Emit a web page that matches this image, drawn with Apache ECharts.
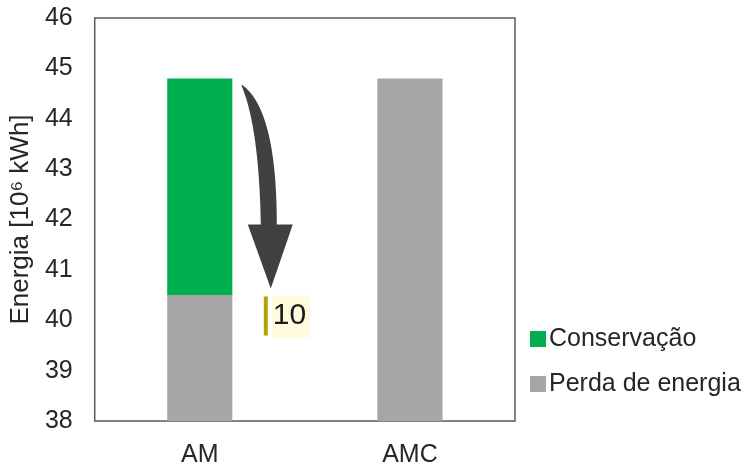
<!DOCTYPE html>
<html>
<head>
<meta charset="utf-8">
<script src="https://cdn.jsdelivr.net/npm/echarts@6/dist/echarts.min.js"></script>
<style>
  html, body { margin: 0; padding: 0; background: #fff; }
  #chart { width: 742px; height: 468px; }
</style>
</head>
<body>
<div id="chart"></div>
<script>
// Categories and stacked values (10^6 kWh)
const categories = ['AM', 'AMC'];
const perdaEnergia = [40.5, 44.8];
const conservacao = [4.3, '-'];
const yTicks = { min: 38, max: 46, interval: 1 };
const reductionLabel = '10';

const FONT = '"Liberation Sans", Arial, sans-serif';
const chart = echarts.init(document.getElementById('chart'), null, { renderer: 'canvas' });

chart.setOption({
  animation: false,
  textStyle: { fontFamily: FONT },
  grid: {
    left: 94, top: 18, right: 227, bottom: 45,
    show: true, borderColor: '#595959', borderWidth: 1.5
  },
  legend: {
    orient: 'vertical',
    left: 525, top: 320,
    itemWidth: 16, itemHeight: 16, itemGap: 17,
    icon: 'rect',
    data: ['Conservação', 'Perda de energia'],
    textStyle: { fontSize: 25, color: '#262626', fontFamily: FONT, lineHeight: 28, padding: [0, 0, 0, -2] }
  },
  xAxis: {
    type: 'category',
    data: categories,
    axisLine: { show: false },
    axisTick: { show: false },
    axisLabel: { fontSize: 25, color: '#262626', margin: 22, fontFamily: FONT }
  },
  yAxis: {
    type: 'value',
    min: yTicks.min, max: yTicks.max, interval: yTicks.interval,
    name: 'Energia [10⁶ kWh]',
    nameLocation: 'middle',
    nameGap: 57,
    nameTextStyle: { fontSize: 26, color: '#262626', fontFamily: FONT },
    axisLine: { show: false },
    axisTick: { show: false },
    splitLine: { show: false },
    axisLabel: { fontSize: 25, color: '#262626', margin: 22, fontFamily: FONT }
  },
  series: [
    {
      name: 'Perda de energia',
      type: 'bar',
      stack: 'energia',
      barWidth: '31%',
      itemStyle: { color: '#a6a6a6' },
      data: perdaEnergia
    },
    {
      name: 'Conservação',
      type: 'bar',
      stack: 'energia',
      barWidth: '31%',
      itemStyle: { color: '#00b050' },
      data: conservacao
    }
  ]
});

// Curved arrow from the top of the AM stack down to the loss level
const stackTop = perdaEnergia[0] + conservacao[0];
const px = v => chart.convertToPixel({ xAxisIndex: 0, yAxisIndex: 0 }, ['AM', v]);
const cx = px(stackTop)[0];
const sy = px(stackTop - 0.12)[1];
const hy = px(41.9)[1];
const ty = px(perdaEnergia[0] + 0.13)[1];

// sample a cubic bezier into polygon points
function cubic(p0, p1, p2, p3, n) {
  const pts = [];
  for (let i = 0; i <= n; i++) {
    const t = i / n, u = 1 - t;
    pts.push([
      u * u * u * p0[0] + 3 * u * u * t * p1[0] + 3 * u * t * t * p2[0] + t * t * t * p3[0],
      u * u * u * p0[1] + 3 * u * u * t * p1[1] + 3 * u * t * t * p2[1] + t * t * t * p3[1]
    ]);
  }
  return pts;
}

const outerEdge = cubic([cx + 42, sy], [cx + 70, sy + 20], [cx + 77, hy - 60], [cx + 77, hy], 30);
const innerEdge = cubic([cx + 61, hy], [cx + 60, hy - 60], [cx + 54, sy + 30], [cx + 42, sy + 2], 30);
const arrowPoints = outerEdge.concat(
  [[cx + 93, hy], [cx + 71, ty], [cx + 48, hy]],
  innerEdge
);

chart.setOption({
  graphic: [
    {
      type: 'polygon',
      shape: { points: arrowPoints },
      style: { fill: '#404040' },
      z: 10
    },
    {
      type: 'rect',
      shape: { x: cx + 72, y: ty + 7, width: 38, height: 43 },
      style: { fill: '#fffbdc' },
      z: 10
    },
    {
      type: 'rect',
      shape: { x: cx + 64, y: ty + 8, width: 4, height: 39 },
      style: { fill: '#b0a500' },
      z: 11
    },
    {
      type: 'text',
      x: cx + 73, y: ty + 27,
      style: {
        text: reductionLabel,
        font: '30px ' + FONT,
        fill: '#1a1a1a',
        verticalAlign: 'middle',
        align: 'left'
      },
      z: 12
    }
  ]
});
</script>
</body>
</html>
